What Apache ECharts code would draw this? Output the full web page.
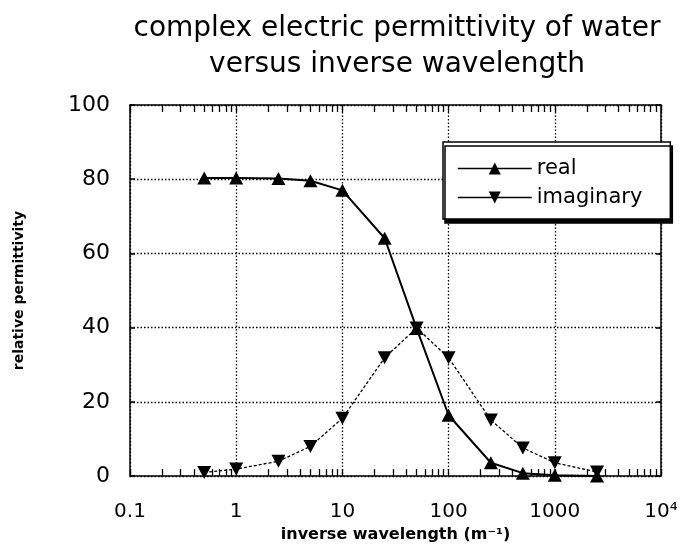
<!DOCTYPE html>
<html><head><meta charset="utf-8">
<script src="https://cdn.jsdelivr.net/npm/echarts@6/dist/echarts.min.js"></script>
<style>html,body{margin:0;padding:0;background:#fff}#c{width:683px;height:548px}</style>
</head><body><div id="c"></div>
<script>
// ---- data ----
const inverseWavelength = [0.5, 1, 2.5, 5, 10, 25, 50, 100, 250, 500, 1000, 2500];
const realPart      = [80.3, 80.3, 80.2, 79.6, 77.0, 64.1, 39.8, 16.4, 3.6, 0.8, 0.2, 0.0];
const imaginaryPart = [1.0, 1.9, 4.0, 8.0, 15.6, 31.9, 39.9, 31.9, 15.1, 7.6, 3.6, 1.1];
const xTickLabels = ['0.1', '1', '10', '100', '1000', '10\u2074'];
const minorTickValues = [
  0.2, 0.3, 0.4, 0.5, 0.6, 0.7, 0.8, 0.9,
  2, 3, 4, 5, 6, 7, 8, 9,
  20, 30, 40, 50, 60, 70, 80, 90,
  200, 300, 400, 500, 600, 700, 800, 900,
  2000, 3000, 4000, 5000, 6000, 7000, 8000, 9000
];
const majorTickValues = [0.1, 1, 10, 100, 1000, 10000];
const seriesNames = ['real', 'imaginary'];
const titleLines = ['complex electric permittivity of water', 'versus inverse wavelength'];

const FONT = 'DejaVu Sans';
const chart = echarts.init(document.getElementById('c'), null, {renderer: 'canvas'});

const pairs = vals => inverseWavelength.map((x, i) => [x, vals[i]]);
const allTicks = majorTickValues.concat(minorTickValues);

const baseX = {type: 'log', logBase: 10, min: 0.1, max: 10000, gridIndex: 0};
const frameLine = {show: true, onZero: false, lineStyle: {color: '#000', width: 1.5}};
const xTicks = {show: true, inside: true, length: 7, customValues: allTicks,
                lineStyle: {color: '#000', width: 1.3}};

chart.setOption({
  animation: false,
  backgroundColor: '#fff',
  title: {
    text: titleLines.join('\n'),
    left: 392, top: 6, textAlign: 'center',
    textStyle: {fontFamily: FONT, fontSize: 28, fontWeight: 'normal', color: '#000', lineHeight: 36}
  },
  grid: {left: 130, right: 22, top: 105, bottom: 66},
  legend: {
    orient: 'vertical', left: 443, top: 142,
    data: seriesNames,
    backgroundColor: '#fff', borderColor: '#000', borderWidth: 1.5, borderRadius: 0,
    shadowColor: '#000', shadowBlur: 0, shadowOffsetX: 2, shadowOffsetY: 4,
    padding: [16, 28, 11, 14],
    itemWidth: 74, itemHeight: 15, itemGap: 8,
    textStyle: {fontFamily: FONT, fontSize: 21, color: '#000'},
    lineStyle: {type: 'solid', width: 1.5, color: '#000'}
  },
  xAxis: [
    Object.assign({}, baseX, {
      position: 'bottom',
      axisLine: frameLine,
      axisTick: xTicks,
      axisLabel: {
        show: true, color: '#000', fontFamily: FONT, fontSize: 20, margin: 26,
        showMinLabel: true, showMaxLabel: true,
        formatter: v => xTickLabels[Math.round(Math.log10(v)) + 1]
      },
      splitLine: {show: false},
      name: 'inverse wavelength (m\u207B\u00B9)', nameLocation: 'middle', nameGap: 45,
      nameTextStyle: {fontFamily: FONT, fontSize: 16, fontWeight: 'bold', color: '#000'}
    }),
    Object.assign({}, baseX, {
      position: 'top',
      axisLine: frameLine,
      axisTick: xTicks,
      axisLabel: {show: false},
      splitLine: {show: false}
    }),
    Object.assign({}, baseX, {
      position: 'bottom',
      axisLine: {show: false, onZero: false},
      axisTick: {show: false},
      axisLabel: {show: false},
      splitLine: {show: true, lineStyle: {color: '#000', width: 1.3, type: [1.5, 2]}}
    })
  ],
  yAxis: [
    {
      type: 'value', min: 0, max: 100, interval: 20, position: 'left',
      axisLine: frameLine,
      axisTick: {show: true, inside: true, length: 5, lineStyle: {color: '#000', width: 1.5}},
      axisLabel: {color: '#000', fontFamily: FONT, fontSize: 22, margin: 20},
      splitLine: {show: true, lineStyle: {color: '#000', width: 1.3, type: [1.5, 2]}},
      name: 'relative permittivity', nameLocation: 'middle', nameGap: 104,
      nameTextStyle: {fontFamily: FONT, fontSize: 14, fontWeight: 'bold', color: '#000'}
    },
    {
      type: 'value', min: 0, max: 100, interval: 20, position: 'right',
      axisLine: frameLine,
      axisTick: {show: true, inside: true, length: 5, lineStyle: {color: '#000', width: 1.5}},
      axisLabel: {show: false},
      splitLine: {show: false}
    }
  ],
  series: [
    {
      name: seriesNames[0], type: 'line', xAxisIndex: 0, yAxisIndex: 0,
      data: pairs(realPart),
      symbol: 'triangle', symbolSize: [14, 13],
      itemStyle: {color: '#000'},
      lineStyle: {color: '#000', width: 2},
      z: 4
    },
    {
      name: seriesNames[1], type: 'line', xAxisIndex: 0, yAxisIndex: 0,
      data: pairs(imaginaryPart),
      symbol: 'triangle', symbolRotate: 180, symbolSize: [14, 13],
      itemStyle: {color: '#000'},
      lineStyle: {color: '#000', width: 1.3, type: [3, 2]},
      z: 3
    }
  ]
});
</script>
</body></html>
